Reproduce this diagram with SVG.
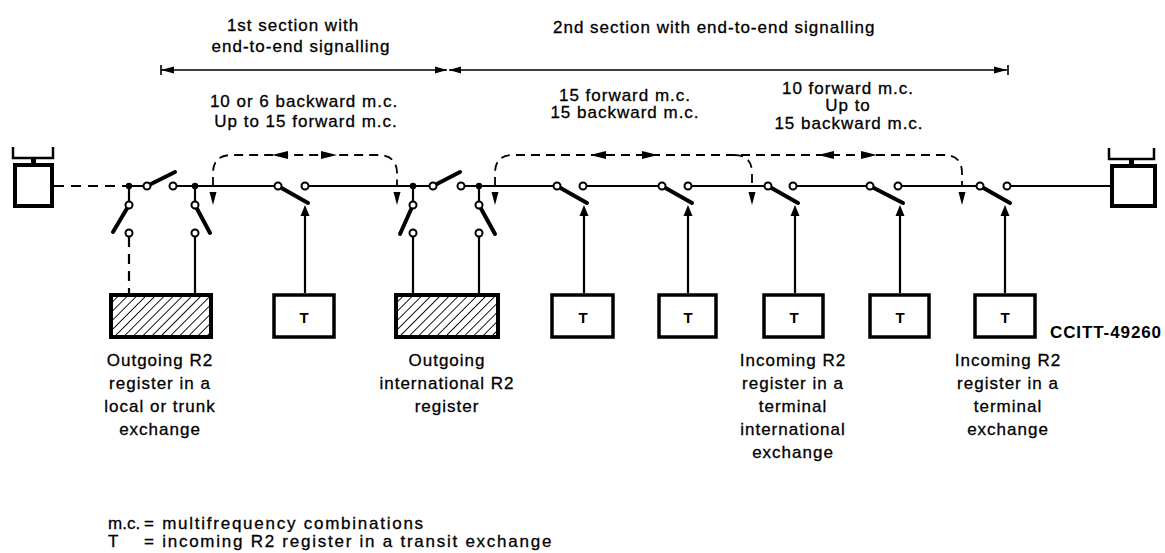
<svg xmlns="http://www.w3.org/2000/svg" width="1165" height="553" viewBox="0 0 1165 553">
<style>
.ln{stroke:#000;stroke-width:2.2;fill:none}
.dl{stroke:#000;stroke-width:2.2;fill:none;stroke-dasharray:10 7}
.arc{stroke:#000;stroke-width:1.8;fill:none;stroke-dasharray:9 6}
.dim{stroke:#000;stroke-width:1.6;fill:none}
.lev{stroke:#000;stroke-width:4;stroke-linecap:round}
.oc{fill:#fff;stroke:#000;stroke-width:2}
.jd{fill:#000}
.ah{fill:#000}
.box{fill:#fff;stroke:#000;stroke-width:3.5}
.hbox{fill:url(#hatch);stroke:#000;stroke-width:4}
.ph{fill:#fff;stroke:#000;stroke-width:4}
.hs{stroke:#000;stroke-width:2.5;fill:none}
.t{font-family:"Liberation Sans",Arial,sans-serif;font-size:17px;letter-spacing:1px;fill:#000;stroke:#000;stroke-width:0.3}
.c{text-anchor:middle}
.tb{font-family:"Liberation Sans",Arial,sans-serif;font-size:15px;font-weight:bold;fill:#000;text-anchor:middle}
.lg{font-family:"Liberation Sans",Arial,sans-serif;font-size:17px;letter-spacing:1.75px;fill:#000;stroke:#000;stroke-width:0.3}
</style>
<defs>
<pattern id="hatch" patternUnits="userSpaceOnUse" width="6.5" height="6.5" patternTransform="rotate(45)">
<rect width="6.5" height="6.5" fill="#fff"/>
<line x1="0" y1="0" x2="0" y2="6.5" stroke="#000" stroke-width="1.8"/>
</pattern>
</defs>

<g id="dimensions">
<path class="dim" d="M161,70 H447 M449,70 H1007"/>
<path class="dim" d="M161,65 V75 M1008,65 V75"/>
<polygon class="ah" points="161,70 174,66.5 174,73.5"/>
<polygon class="ah" points="447,70 435,66.5 435,73.5"/>
<polygon class="ah" points="449,70 461,66.5 461,73.5"/>
<polygon class="ah" points="1007,70 994,66.5 994,73.5"/>
<text class="t c" x="293" y="31">1st section with</text>
<text class="t c" x="301" y="52">end-to-end signalling</text>
<text class="t" x="553" y="33">2nd section with end-to-end signalling</text>
</g>

<g id="signal-labels">
<text class="t c" x="304" y="107">10 or 6 backward m.c.</text>
<text class="t c" x="306" y="127">Up to 15 forward m.c.</text>
<text class="t c" x="625" y="101">15 forward m.c.</text>
<text class="t c" x="625" y="118">15 backward m.c.</text>
<text class="t c" x="848" y="94">10 forward m.c.</text>
<text class="t c" x="848" y="111">Up to</text>
<text class="t c" x="849" y="129">15 backward m.c.</text>
</g>

<g id="connectors">
<path class="dl" d="M54,186 H126"/>
<path class="ln" d="M126,186 H147 M173,186 H278 M305,186 H433 M461,186 H557 M583,186 H662 M688,186 H768 M793,186 H870 M898,186 H980 M1007,186 H1110"/>
<path class="ln" d="M129,186 V202 M195,186 V202 M413,186 V202 M479,186 V202"/>
<path class="dl" d="M129,237 V293"/>
<path class="ln" d="M195,237 V293 M413,237 V293 M479,237 V293"/>
<path class="ln" d="M305,293 V214 M584,293 V214 M688,293 V214 M795,293 V214 M900,293 V214 M1005,293 V214"/>
<polygon class="ah" points="305,205 300.5,216 309.5,216"/>
<polygon class="ah" points="584,205 579.5,216 588.5,216"/>
<polygon class="ah" points="688,205 683.5,216 692.5,216"/>
<polygon class="ah" points="795,205 790.5,216 799.5,216"/>
<polygon class="ah" points="900,205 895.5,216 904.5,216"/>
<polygon class="ah" points="1005,205 1000.5,216 1009.5,216"/>
<path class="arc" d="M213,186 V173 Q213,155 232,155 H377 Q397,155 397,173 V186"/>
<path class="arc" d="M495,186 V173 Q495,155 513,155 H944 Q962,155 962,173 V186"/>
<path class="arc" d="M734,155 Q752,155 752,173 V186"/>
<polygon class="ah" points="213,205 209.5,192 216.5,192"/>
<polygon class="ah" points="397,205 393.5,192 400.5,192"/>
<polygon class="ah" points="495,205 491.5,192 498.5,192"/>
<polygon class="ah" points="752,205 748.5,192 755.5,192"/>
<polygon class="ah" points="962,205 958.5,192 965.5,192"/>
<polygon class="ah" points="272,155 288,151 288,159"/>
<polygon class="ah" points="337,155 321,151 321,159"/>
<polygon class="ah" points="590,155 606,151 606,159"/>
<polygon class="ah" points="658,155 642,151 642,159"/>
<polygon class="ah" points="818,155 834,151 834,159"/>
<polygon class="ah" points="877,155 861,151 861,159"/>
</g>

<g id="switches">
<line class="lev" x1="147" y1="186" x2="175" y2="172"/>
<line class="lev" x1="129" y1="205" x2="113" y2="232"/>
<line class="lev" x1="195" y1="205" x2="210" y2="233"/>
<line class="lev" x1="278" y1="186" x2="308" y2="203"/>
<line class="lev" x1="433" y1="186" x2="460" y2="172"/>
<line class="lev" x1="413" y1="205" x2="400" y2="234"/>
<line class="lev" x1="479" y1="205" x2="495" y2="234"/>
<line class="lev" x1="557" y1="186" x2="587" y2="203"/>
<line class="lev" x1="662" y1="186" x2="692" y2="203"/>
<line class="lev" x1="768" y1="186" x2="798" y2="203"/>
<line class="lev" x1="870" y1="186" x2="903" y2="203"/>
<line class="lev" x1="980" y1="186" x2="1010" y2="203"/>
<circle class="jd" cx="129" cy="186" r="3.2"/>
<circle class="jd" cx="195" cy="186" r="3.2"/>
<circle class="jd" cx="413" cy="186" r="3.2"/>
<circle class="jd" cx="479" cy="186" r="3.2"/>
<circle class="oc" cx="147" cy="186" r="3.5"/>
<circle class="oc" cx="173" cy="186" r="3.5"/>
<circle class="oc" cx="129" cy="205" r="3.5"/>
<circle class="oc" cx="129" cy="233" r="3.5"/>
<circle class="oc" cx="195" cy="205" r="3.5"/>
<circle class="oc" cx="195" cy="233" r="3.5"/>
<circle class="oc" cx="278" cy="186" r="3.5"/>
<circle class="oc" cx="305" cy="186" r="3.5"/>
<circle class="oc" cx="433" cy="186" r="3.5"/>
<circle class="oc" cx="461" cy="186" r="3.5"/>
<circle class="oc" cx="413" cy="205" r="3.5"/>
<circle class="oc" cx="413" cy="233" r="3.5"/>
<circle class="oc" cx="479" cy="205" r="3.5"/>
<circle class="oc" cx="479" cy="233" r="3.5"/>
<circle class="oc" cx="557" cy="186" r="3.5"/>
<circle class="oc" cx="583" cy="186" r="3.5"/>
<circle class="oc" cx="662" cy="186" r="3.5"/>
<circle class="oc" cx="688" cy="186" r="3.5"/>
<circle class="oc" cx="768" cy="186" r="3.5"/>
<circle class="oc" cx="793" cy="186" r="3.5"/>
<circle class="oc" cx="870" cy="186" r="3.5"/>
<circle class="oc" cx="898" cy="186" r="3.5"/>
<circle class="oc" cx="980" cy="186" r="3.5"/>
<circle class="oc" cx="1007" cy="186" r="3.5"/>
</g>

<g id="phone-left">
<path class="hs" d="M13,147 V158 H53 V147"/>
<rect x="31" y="158" width="5" height="6" fill="#000"/>
<rect class="ph" x="15" y="165" width="37" height="41"/>
</g>
<g id="phone-right">
<path class="hs" d="M1109,148 V159 H1154 V148"/>
<rect x="1129" y="159" width="5" height="6" fill="#000"/>
<rect class="ph" x="1112" y="166" width="43" height="40"/>
</g>

<g id="reg-outgoing-local">
<rect class="hbox" x="111" y="295" width="100" height="42"/>
<text class="t c" x="160" y="366">Outgoing R2</text>
<text class="t c" x="160" y="389">register in a</text>
<text class="t c" x="160" y="412">local or trunk</text>
<text class="t c" x="160" y="435">exchange</text>
</g>
<g id="T1">
<rect class="box" x="274" y="295" width="60" height="42"/>
<text class="tb" x="304" y="323">T</text>
</g>
<g id="reg-outgoing-intl">
<rect class="hbox" x="396" y="295" width="102" height="42"/>
<text class="t c" x="447" y="366">Outgoing</text>
<text class="t c" x="447" y="389">international R2</text>
<text class="t c" x="447" y="412">register</text>
</g>
<g id="T2">
<rect class="box" x="552" y="295" width="61" height="42"/>
<text class="tb" x="583" y="323">T</text>
</g>
<g id="T3">
<rect class="box" x="659" y="295" width="57" height="42"/>
<text class="tb" x="688" y="323">T</text>
</g>
<g id="T4">
<rect class="box" x="764" y="295" width="59" height="42"/>
<text class="tb" x="794" y="323">T</text>
<text class="t c" x="793" y="366">Incoming R2</text>
<text class="t c" x="793" y="389">register in a</text>
<text class="t c" x="793" y="412">terminal</text>
<text class="t c" x="793" y="435">international</text>
<text class="t c" x="793" y="458">exchange</text>
</g>
<g id="T5">
<rect class="box" x="870" y="295" width="59" height="42"/>
<text class="tb" x="900" y="323">T</text>
</g>
<g id="T6">
<rect class="box" x="975" y="295" width="60" height="42"/>
<text class="tb" x="1005" y="323">T</text>
<text class="t c" x="1008" y="366">Incoming R2</text>
<text class="t c" x="1008" y="389">register in a</text>
<text class="t c" x="1008" y="412">terminal</text>
<text class="t c" x="1008" y="435">exchange</text>
</g>

<text x="1050" y="338" style="font-family:'Liberation Sans',Arial,sans-serif;font-size:17px;font-weight:bold;letter-spacing:0.9px">CCITT-49260</text>

<g id="legend">
<text class="lg" x="108" y="529" style="letter-spacing:0">m.c.</text>
<text class="lg" x="144" y="529">= multifrequency combinations</text>
<text class="lg" x="108" y="547">T</text>
<text class="lg" x="144" y="547">= incoming R2 register in a transit exchange</text>
</g>
</svg>
